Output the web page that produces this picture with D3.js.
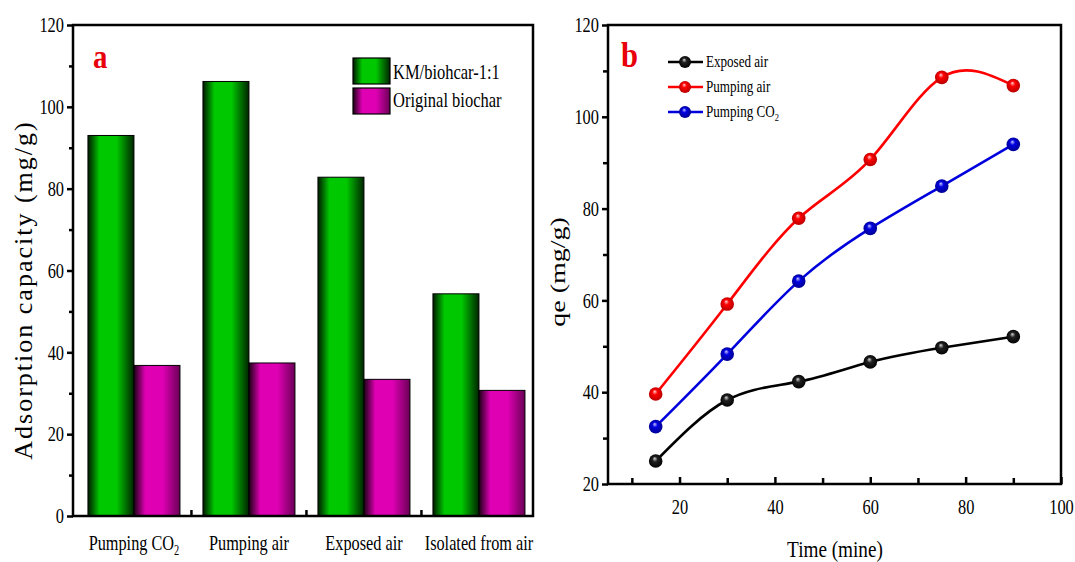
<!DOCTYPE html>
<html>
<head>
<meta charset="utf-8">
<script src="https://cdn.jsdelivr.net/npm/d3@7"></script>
<style>
  body { margin: 0; background: #fff; }
  text { font-family: "Liberation Serif", "Times New Roman", serif; fill: #000; }
</style>
</head>
<body>
<script>
// panel a data
const categories = ["Pumping CO2", "Pumping air", "Exposed air", "Isolated from air"];
const kmBiochar = [93.0, 106.2, 82.8, 54.3];
const originalBiochar = [36.8, 37.4, 33.4, 30.7];
const yTicksA = [0, 20, 40, 60, 80, 100, 120];
const yMinorA = [10, 30, 50, 70, 90, 110];

// panel b data
const times = [15, 30, 45, 60, 75, 90];
const exposedAir = [25.0, 38.3, 42.3, 46.6, 49.7, 52.1];
const pumpingAir = [39.6, 59.2, 77.9, 90.7, 108.6, 106.8];
const pumpingCO2 = [32.5, 48.3, 64.2, 75.7, 84.9, 94.0];
const xTicksB = [20, 40, 60, 80, 100];
const xMinorB = [10, 30, 50, 70, 90];
const yTicksB = [20, 40, 60, 80, 100, 120];
const yMinorB = [30, 50, 70, 90, 110];

const svg = d3.select("body").append("svg")
  .attr("width", 1075)
  .attr("height", 562);

const defs = svg.append("defs");

// shaded bar fills
function barGradient(id, dark, bright, darkRight) {
  const g = defs.append("linearGradient").attr("id", id)
    .attr("x1", "0%").attr("x2", "100%").attr("y1", "0%").attr("y2", "0%");
  g.append("stop").attr("offset", "0%").attr("stop-color", dark);
  g.append("stop").attr("offset", "25%").attr("stop-color", bright);
  g.append("stop").attr("offset", "62%").attr("stop-color", bright);
  g.append("stop").attr("offset", "100%").attr("stop-color", darkRight);
}
barGradient("gGreen", "#001a00", "#00c800", "#002400");
barGradient("gMagenta", "#1a0014", "#e000b4", "#6a0056");

// shaded ball markers
function ballGradient(id, light, mid, dark) {
  const g = defs.append("radialGradient").attr("id", id)
    .attr("cx", "50%").attr("cy", "50%").attr("r", "55%")
    .attr("fx", "42%").attr("fy", "30%");
  g.append("stop").attr("offset", "0%").attr("stop-color", light);
  g.append("stop").attr("offset", "35%").attr("stop-color", mid);
  g.append("stop").attr("offset", "100%").attr("stop-color", dark);
}
ballGradient("bBlack", "#d8d8d8", "#202020", "#000");
ballGradient("bRed", "#ffd0d0", "#ff0000", "#b00000");
ballGradient("bBlue", "#c8c8ff", "#0000e0", "#00008a");

// squeezes serif text horizontally, keeping the anchor point
function squeeze(sel, sx) {
  sel.each(function () {
    const t = d3.select(this);
    const x = +t.attr("x") || 0;
    t.attr("x", x / sx).attr("transform", `scale(${sx},1)`);
  });
}
function label(x, y, str, size, sx, opts = {}) {
  return svg.append("text")
    .attr("transform", `translate(${x},${y}) scale(${sx},1)`)
    .attr("font-size", size)
    .attr("text-anchor", opts.anchor || "start")
    .attr("font-weight", opts.weight || "normal")
    .style("fill", opts.fill || "#000")
    .text(str);
}

// ================= panel a =================
const xA = d3.scaleBand().domain(categories).range([73, 533])
  .paddingInner(0.2).paddingOuter(0.1).align(0.65);
const xSub = d3.scaleBand().domain(["km", "orig"]).range([0, xA.bandwidth()]);
const yA = d3.scaleLinear().domain([0, 120]).range([516, 25]);

const groups = svg.selectAll("g.group")
  .data(categories)
  .join("g")
  .attr("class", "group")
  .attr("transform", d => `translate(${xA(d)},0)`);

groups.append("rect")
  .attr("x", xSub("km"))
  .attr("width", xSub.bandwidth())
  .attr("y", (d, i) => yA(kmBiochar[i]))
  .attr("height", (d, i) => yA(0) - yA(kmBiochar[i]))
  .attr("fill", "url(#gGreen)")
  .attr("stroke", "#000").attr("stroke-width", 1);

groups.append("rect")
  .attr("x", xSub("orig"))
  .attr("width", xSub.bandwidth())
  .attr("y", (d, i) => yA(originalBiochar[i]))
  .attr("height", (d, i) => yA(0) - yA(originalBiochar[i]))
  .attr("fill", "url(#gMagenta)")
  .attr("stroke", "#000").attr("stroke-width", 1);

// y axis a
const yAxisA = svg.append("g").attr("transform", "translate(73,0)")
  .call(d3.axisLeft(yA).tickValues(yTicksA).tickSize(6).tickPadding(3));
svg.append("g").attr("transform", "translate(73,0)")
  .call(d3.axisLeft(yA).tickValues(yMinorA).tickSize(4).tickFormat(""));

// x axis a: labels plus inward ticks between the groups
const xAxisA = svg.append("g").attr("transform", "translate(0,516)")
  .call(d3.axisBottom(xA).tickSize(0).tickPadding(18));
const gap = xA.step() - xA.bandwidth();
svg.append("g").selectAll("line")
  .data(categories.slice(1))
  .join("line")
  .attr("x1", d => xA(d) - gap / 2).attr("x2", d => xA(d) - gap / 2)
  .attr("y1", 516).attr("y2", 510)
  .attr("stroke", "#000").attr("stroke-width", 2.5);

svg.append("rect")
  .attr("x", 73).attr("y", 25).attr("width", 460).attr("height", 491)
  .attr("fill", "none").attr("stroke", "#000").attr("stroke-width", 2.5);

// legend a
const legA = [["KM/biohcar-1:1", "url(#gGreen)"], ["Original biochar", "url(#gMagenta)"]];
legA.forEach((d, i) => {
  svg.append("rect")
    .attr("x", 353).attr("y", 58 + i * 30).attr("width", 37).attr("height", 26)
    .attr("fill", d[1]).attr("stroke", "#000").attr("stroke-width", 1.2);
  label(393, 79 + i * 28, d[0], 22, 0.75);
});

label(93, 68, "a", 34, 0.85, { weight: "bold", fill: "#e8000b" });

svg.append("text")
  .attr("transform", "translate(32,290) rotate(-90)")
  .attr("text-anchor", "middle")
  .attr("font-size", 26)
  .attr("letter-spacing", 2)
  .text("Adsorption capacity (mg/g)");

// ================= panel b =================
const xB = d3.scaleLinear().domain([5, 100]).range([608, 1061]);
const yB = d3.scaleLinear().domain([20, 120]).range([484, 25]);

const yAxisB = svg.append("g").attr("transform", "translate(608,0)")
  .call(d3.axisLeft(yB).tickValues(yTicksB).tickSize(6).tickPadding(3));
svg.append("g").attr("transform", "translate(608,0)")
  .call(d3.axisLeft(yB).tickValues(yMinorB).tickSize(5).tickFormat(""));
const xAxisB = svg.append("g").attr("transform", "translate(0,484)")
  .call(d3.axisBottom(xB).tickValues(xTicksB).tickSize(-7).tickPadding(15));
svg.append("g").attr("transform", "translate(0,484)")
  .call(d3.axisBottom(xB).tickValues(xMinorB).tickSize(-6).tickFormat(""));

svg.append("rect")
  .attr("x", 608).attr("y", 25).attr("width", 453).attr("height", 459)
  .attr("fill", "none").attr("stroke", "#000").attr("stroke-width", 2.5);

const seriesB = [
  { name: "Exposed air", values: exposedAir, color: "#000", ball: "url(#bBlack)" },
  { name: "Pumping air", values: pumpingAir, color: "#ff0000", ball: "url(#bRed)" },
  { name: "Pumping CO2", values: pumpingCO2, color: "#0000dd", ball: "url(#bBlue)" }
];

const line = d3.line()
  .x((d, i) => xB(times[i]))
  .y(d => yB(d))
  .curve(d3.curveNatural);

seriesB.forEach(s => {
  svg.append("path")
    .attr("d", line(s.values))
    .attr("fill", "none").attr("stroke", s.color).attr("stroke-width", 2.6);
  svg.append("g").selectAll("circle")
    .data(s.values)
    .join("circle")
    .attr("cx", (d, i) => xB(times[i]))
    .attr("cy", d => yB(d))
    .attr("r", 6.8)
    .attr("fill", s.ball);
});

// legend b
seriesB.forEach((s, i) => {
  const y = 62 + i * 25;
  svg.append("line")
    .attr("x1", 668).attr("x2", 703).attr("y1", y).attr("y2", y)
    .attr("stroke", s.color).attr("stroke-width", 2.6);
  svg.append("circle").attr("cx", 685).attr("cy", y).attr("r", 6).attr("fill", s.ball);
  const t = label(706, y + 5, "", 17, 0.77);
  if (s.name === "Pumping CO2") {
    t.append("tspan").text("Pumping CO");
    t.append("tspan").attr("dy", 4).attr("font-size", 11).text("2");
  } else {
    t.text(s.name);
  }
});

label(621, 67, "b", 36, 0.85, { weight: "bold", fill: "#e8000b" });

label(835, 557, "Time (mine)", 24, 0.8, { anchor: "middle" });

svg.append("text")
  .attr("transform", "translate(565,272) rotate(-90) scale(1,0.78)")
  .attr("text-anchor", "middle")
  .attr("font-size", 28)
  .text("qe (mg/g)");

// axis styling
svg.selectAll(".domain").remove();
svg.selectAll(".tick line").attr("stroke-width", 2.5);
svg.selectAll(".tick text").attr("font-size", 21)
  .style("font-family", "'Liberation Serif', 'Times New Roman', serif");
[yAxisA, yAxisB, xAxisB].forEach(a => squeeze(a.selectAll(".tick text"), 0.78));
xAxisA.selectAll(".tick text").attr("font-size", 22);
squeeze(xAxisA.selectAll(".tick text"), 0.74);

// CO2 subscript on category label
xAxisA.selectAll(".tick text").filter(d => d === "Pumping CO2")
  .text(null)
  .call(t => {
    t.append("tspan").text("Pumping CO");
    t.append("tspan").attr("dy", 5).attr("font-size", 14).text("2");
  });
</script>
</body>
</html>
